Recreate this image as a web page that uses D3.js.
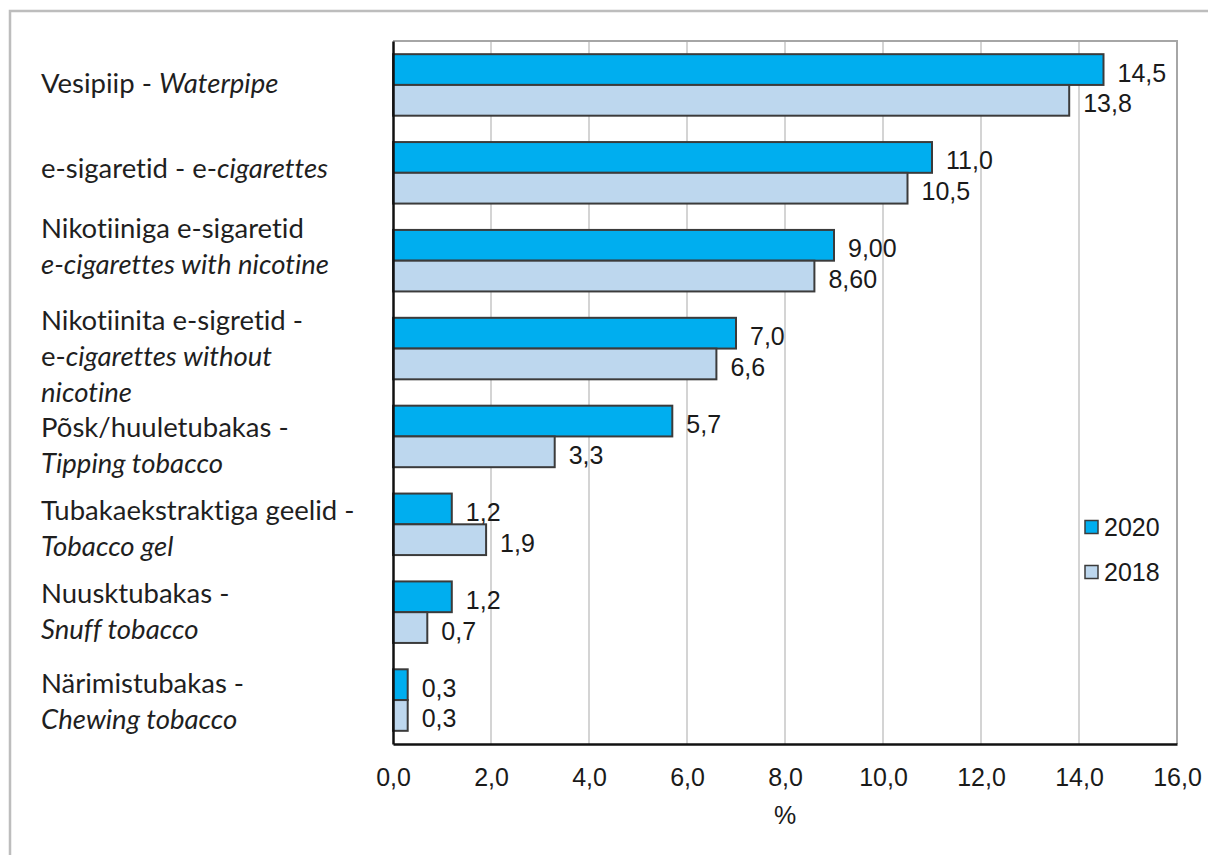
<!DOCTYPE html>
<html>
<head>
<meta charset="utf-8">
<script src="https://cdn.jsdelivr.net/npm/d3@7/dist/d3.min.js"></script>
<style>
  html, body { margin: 0; padding: 0; background: #fff; }
  svg { display: block; }
  text { font-variant-ligatures: none; font-feature-settings: "liga" 0, "clig" 0; }
</style>
</head>
<body>
<script>
// ---- data ----
const categoryLines = [
  ["Vesipiip - *Waterpipe*"],
  ["e-sigaretid - e-*cigarettes*"],
  ["Nikotiiniga e-sigaretid", "*e-cigarettes with nicotine*"],
  ["Nikotiinita e-sigretid -", "e-*cigarettes without*", "*nicotine*"],
  ["Põsk/huuletubakas -", "*Tipping tobacco*"],
  ["Tubakaekstraktiga geelid -", "*Tobacco gel*"],
  ["Nuusktubakas -", "*Snuff tobacco*"],
  ["Närimistubakas -", "*Chewing tobacco*"]
];
const seriesNames = ["2020", "2018"];
const values2020 = [14.5, 11.0, 9.0, 7.0, 5.7, 1.2, 1.2, 0.3];
const values2018 = [13.8, 10.5, 8.6, 6.6, 3.3, 1.9, 0.7, 0.3];
const labels2020 = ["14,5", "11,0", "9,00", "7,0", "5,7", "1,2", "1,2", "0,3"];
const labels2018 = ["13,8", "10,5", "8,60", "6,6", "3,3", "1,9", "0,7", "0,3"];
const xTicks = [0, 2, 4, 6, 8, 10, 12, 14, 16];
const xTickLabels = ["0,0", "2,0", "4,0", "6,0", "8,0", "10,0", "12,0", "14,0", "16,0"];
const xAxisTitle = "%";

// ---- layout / style ----
const W = 1208, H = 855;
const plot = { left: 393, right: 1177, top: 41, bottom: 744 };
const colors = { "2020": "#00AEEF", "2018": "#BDD7EE" };
const labelNudge = [-3, -6, -16, 6, 8, 3, -2, 0];
const numFont = "'Liberation Sans', Arial, sans-serif";
const catFont = "Lato, 'Open Sans', sans-serif";
const numSize = 25;

const svg = d3.select("body").append("svg").attr("width", W).attr("height", H);

// outer frame (top + left visible)
svg.append("path")
  .attr("d", `M10,${H} L10,11 L${W},11`)
  .attr("fill", "none").attr("stroke", "#bdbdbd").attr("stroke-width", 2.5);

const x = d3.scaleLinear().domain([0, 16]).range([plot.left, plot.right]);
const idx = d3.range(categoryLines.length);
const y = d3.scaleBand().domain(idx).range([plot.top, plot.bottom])
  .paddingInner(0.3).paddingOuter(0.15);
const ySub = d3.scaleBand().domain(seriesNames).range([0, y.bandwidth()]);

// gridlines
svg.append("g").selectAll("line").data(xTicks.filter(t => t > 0 && t < 16)).join("line")
  .attr("x1", d => x(d)).attr("x2", d => x(d))
  .attr("y1", plot.top).attr("y2", plot.bottom)
  .attr("stroke", "#d4d4d4").attr("stroke-width", 2);

// plot border (top & right)
svg.append("path")
  .attr("d", `M${plot.left},${plot.top} L${plot.right},${plot.top} L${plot.right},${plot.bottom}`)
  .attr("fill", "none").attr("stroke", "#a6a6a6").attr("stroke-width", 2);

// bars
const series = [
  { name: "2020", values: values2020, labels: labels2020 },
  { name: "2018", values: values2018, labels: labels2018 }
];
series.forEach(s => {
  const g = svg.append("g");
  g.selectAll("rect").data(idx).join("rect")
    .attr("x", x(0))
    .attr("y", i => y(i) + ySub(s.name))
    .attr("width", i => x(s.values[i]) - x(0))
    .attr("height", ySub.bandwidth())
    .attr("fill", colors[s.name])
    .attr("stroke", "#3b3b3b").attr("stroke-width", 2);
  g.selectAll("text").data(idx).join("text")
    .attr("x", i => x(s.values[i]) + 14)
    .attr("y", i => y(i) + ySub(s.name) + ySub.bandwidth() / 2 + 3)
    .attr("dominant-baseline", "central")
    .attr("font-family", numFont).attr("font-size", numSize).attr("fill", "#1a1a1a")
    .text(i => s.labels[i]);
});

// axes
const xAxis = d3.axisBottom(x).tickValues(xTicks).tickSize(0).tickPadding(0)
  .tickFormat((d, i) => xTickLabels[i]);
const gx = svg.append("g").attr("transform", `translate(0,${plot.bottom})`).call(xAxis);
gx.select(".domain").attr("stroke", "#111").attr("stroke-width", 2.5);
gx.selectAll("text").attr("font-family", numFont).attr("font-size", numSize)
  .attr("fill", "#1a1a1a").attr("dy", null).attr("y", 33)
  .attr("dominant-baseline", "central");

const yAxis = d3.axisLeft(y).tickSize(0).tickFormat("");
const gy = svg.append("g").attr("transform", `translate(${plot.left},0)`).call(yAxis);
gy.select(".domain").attr("stroke", "#111").attr("stroke-width", 2.5);

svg.append("text").attr("x", 785).attr("y", 815)
  .attr("text-anchor", "middle").attr("dominant-baseline", "central")
  .attr("font-family", numFont).attr("font-size", numSize).attr("fill", "#1a1a1a")
  .text(xAxisTitle);

// category labels
const lineGap = 36;
const cat = svg.append("g");
idx.forEach(i => {
  const lines = categoryLines[i];
  const cy = y(i) + y.bandwidth() / 2 + labelNudge[i];
  lines.forEach((ln, j) => {
    const t = cat.append("text")
      .attr("x", 41)
      .attr("y", cy + (j - (lines.length - 1) / 2) * lineGap)
      .attr("dominant-baseline", "central")
      .attr("font-family", catFont).attr("font-size", 27.5).attr("fill", "#1f1f1f");
    ln.split("*").forEach((seg, k) => {
      if (!seg) return;
      t.append("tspan").attr("font-style", k % 2 ? "italic" : "normal").text(seg);
    });
  });
});

// legend
const leg = svg.append("g");
seriesNames.forEach((n, k) => {
  const ly = 527 + k * 45;
  leg.append("rect").attr("x", 1085).attr("y", ly - 6.5).attr("width", 13).attr("height", 13)
    .attr("fill", colors[n]).attr("stroke", "#3b3b3b").attr("stroke-width", 1.5);
  leg.append("text").attr("x", 1104).attr("y", ly)
    .attr("dominant-baseline", "central")
    .attr("font-family", numFont).attr("font-size", numSize).attr("fill", "#1a1a1a")
    .text(n);
});
</script>
</body>
</html>
